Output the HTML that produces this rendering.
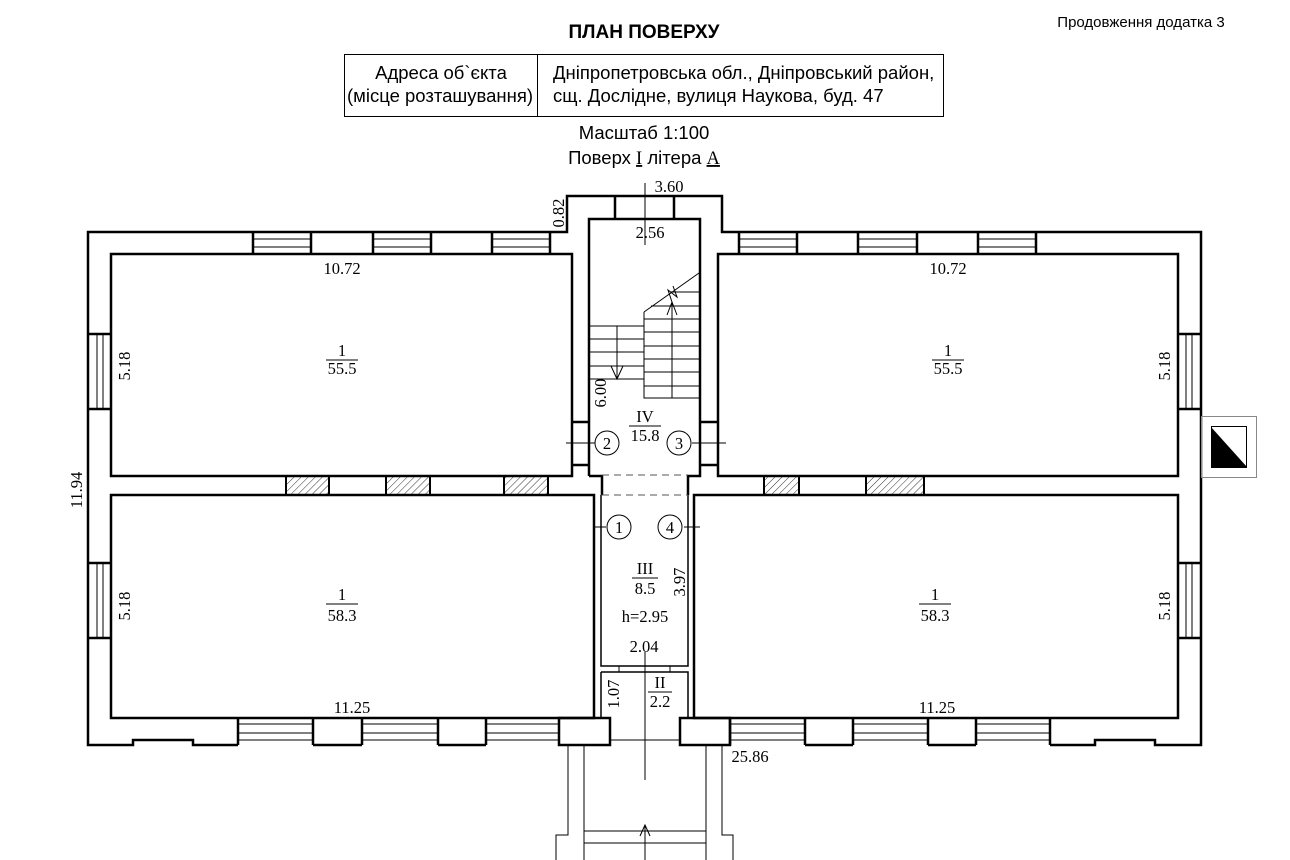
<!DOCTYPE html>
<html><head><meta charset="utf-8"><style>
html,body{margin:0;padding:0;background:#fff;}
svg{display:block}
.s{font-family:"Liberation Sans",sans-serif;}
.r{font-family:"Liberation Serif",serif;font-size:16.5px;}
</style></head><body>
<svg width="1290" height="860" viewBox="0 0 1290 860" xmlns="http://www.w3.org/2000/svg">
<defs>
<pattern id="h" width="5" height="5" patternUnits="userSpaceOnUse" patternTransform="rotate(45)">
<line x1="0" y1="0" x2="0" y2="5" stroke="#000" stroke-width="0.8"/></pattern>
</defs>
<!-- header -->
<text class="s" x="644" y="38" font-size="19" font-weight="bold" text-anchor="middle">ПЛАН ПОВЕРХУ</text>
<text class="s" x="1141" y="27" font-size="15" text-anchor="middle">Продовження додатка 3</text>
<rect x="344.5" y="54.5" width="599" height="62" fill="none" stroke="#000" stroke-width="1"/>
<line x1="537.5" y1="54" x2="537.5" y2="117" stroke="#000"/>
<g class="s" font-size="18.5">
<text x="441" y="79" text-anchor="middle">Адреса об`єкта</text>
<text x="440" y="102" text-anchor="middle">(місце розташування)</text>
<text x="553" y="79">Дніпропетровська обл., Дніпровський район,</text>
<text x="553" y="102">сщ. Дослідне, вулиця Наукова, буд. 47</text>
<text x="644" y="139" text-anchor="middle">Масштаб 1:100</text>
<text x="644" y="164" text-anchor="middle">Поверх <tspan font-family="Liberation Serif" text-decoration="underline">I</tspan> літера  <tspan font-family="Liberation Serif" text-decoration="underline">А</tspan></text>
</g>

<g fill="none" stroke="#000" stroke-width="2.5">
<!-- outer outline -->
<path d="M238 745 H193 V740 H133 V745 H88 V232 H567 V196 H722 V232 H1201 V745 H1155 V740 H1095 V745 H1050"/>
<!-- rooms -->
<rect x="111" y="254" width="461" height="222"/>
<rect x="718" y="254" width="460" height="222"/>
<path d="M111 495 H594 V718 H111 Z"/>
<path d="M694 495 H1178 V718 H694 Z"/>
<!-- stair -->
<path d="M589 476 V219 H700 V476 H688 V495 M589 476 H602 V495"/>
</g>
<g fill="none" stroke="#000" stroke-width="1.5">
<path d="M601 495 V666 H688 V495"/>
<path d="M601 672 H688 V718 M601 672 V718"/>
</g>
<!-- bottom pier boxes -->
<g fill="none" stroke="#000" stroke-width="2.5">
<rect x="559" y="718" width="51" height="27"/>
<rect x="680" y="718" width="50" height="27"/>
<path d="M238 718 V745 M313 718 V745 M362 718 V745 M438 718 V745 M486 718 V745 M730 718 V745 M805 718 V745 M853 718 V745 M928 718 V745 M976 718 V745 M1050 718 V745"/>
<path d="M313 745 H362 M438 745 H486 M805 745 H853 M928 745 H976"/>
</g>
<!-- bottom windows -->
<g stroke="#000" stroke-width="1">
<path d="M238 740 H313 M238 724 H313 M238 733 H313 M362 740 H438 M362 724 H438 M362 733 H438 M486 740 H559 M486 724 H559 M486 733 H559 M610 740 H680 M730 740 H805 M730 724 H805 M730 733 H805 M853 740 H928 M853 724 H928 M853 733 H928 M976 740 H1050 M976 724 H1050 M976 733 H1050"/>
</g>
<!-- top windows -->
<g stroke="#000">
<g stroke-width="2.5"><path d="M253 232 V254 M311 232 V254 M373 232 V254 M431 232 V254 M492 232 V254 M550 232 V254 M739 232 V254 M797 232 V254 M858 232 V254 M917 232 V254 M978 232 V254 M1036 232 V254 M615 196 V219 M674 196 V219"/></g>
<g stroke-width="1"><path d="M253 239 H311 M253 247 H311 M373 239 H431 M373 247 H431 M492 239 H550 M492 247 H550 M739 239 H797 M739 247 H797 M858 239 H917 M858 247 H917 M978 239 H1036 M978 247 H1036"/></g>
<!-- side windows -->
<g stroke-width="2.5"><path d="M88 334 H111 M88 409 H111 M88 563 H111 M88 638 H111 M1178 334 H1201 M1178 409 H1201 M1178 563 H1201 M1178 638 H1201"/></g>
<g stroke-width="1"><path d="M97 334 V409 M103 334 V409 M97 563 V638 M103 563 V638 M1186 334 V409 M1192 334 V409 M1186 563 V638 M1192 563 V638"/></g>
<!-- stair side walls with openings -->
<g stroke-width="2.5"><path d="M572 422 H589 M572 465 H589 M700 422 H718 M700 465 H718"/></g>
</g>
<!-- hatched -->
<g fill="url(#h)" stroke="#000" stroke-width="2">
<rect x="286" y="476" width="43" height="19"/>
<rect x="386" y="476" width="44" height="19"/>
<rect x="504" y="476" width="44" height="19"/>
<rect x="764" y="476" width="35" height="19"/>
<rect x="866" y="476" width="58" height="19"/>
</g>
<!-- dashed opening -->
<g stroke="#555" stroke-width="1" stroke-dasharray="7,5">
<line x1="602" y1="475" x2="688" y2="475"/><line x1="602" y1="495" x2="688" y2="495"/>
</g>
<!-- stairs -->
<g stroke="#000" stroke-width="1" fill="none">
<path d="M589 326 H644 M589 339 H644 M589 352 H644 M589 366 H644 M589 379 H644"/>
<path d="M644 312 L699 273 M644 312 V398 H699"/>
<path d="M670 292 H699 M651 306 H699 M644 319 H699 M644 332 H699 M644 346 H699 M644 359 H699 M644 372 H699 M644 386 H699"/>
<path d="M617 326 V379 M611 366 L617 379 L623 366"/>
<path d="M672 398 V302 M667 315 L672 302 L677 315 M672 302 L668 290 L677 297 L673 286"/>
<!-- dim lines -->
<path d="M645 183 V245"/>
<path d="M645 652 V780"/>
<path d="M645 860 V825 M640 836 L645 825 L650 836"/>
<path d="M566 443 H597 M692 443 H726"/>
<path d="M593 527 H606 M684 527 H700"/>
<path d="M619 666 V672 M670 666 V672"/>
</g>
<g fill="#fff" stroke="#000" stroke-width="1">
<circle cx="607" cy="443" r="12"/><circle cx="679" cy="443" r="12"/>
<circle cx="619" cy="527" r="12"/><circle cx="670" cy="527" r="12"/>
</g>
<!-- porch -->
<g stroke="#000" stroke-width="1" fill="none">
<path d="M568 745 V835 H556 V860 M584 745 V860 M706 745 V860 M722 745 V835 H733 V860"/>
<path d="M584 831 H706 M584 843 H706"/>
</g>
<!-- compass -->
<rect x="1201.5" y="416.5" width="55" height="61" fill="none" stroke="#888" stroke-width="1"/>
<rect x="1211.5" y="426.5" width="35" height="41" fill="#fff" stroke="#000" stroke-width="1"/>
<path d="M1211 427 L1247 467 H1211 Z" fill="#000"/>
<!-- labels -->
<g class="r" text-anchor="middle">
<text x="342" y="274">10.72</text><text x="948" y="274">10.72</text>
<text x="342" y="356">1</text><text x="342" y="374">55.5</text>
<line x1="326" y1="360" x2="358" y2="360" stroke="#000"/>
<text x="948" y="356">1</text><text x="948" y="374">55.5</text>
<line x1="932" y1="360" x2="964" y2="360" stroke="#000"/>
<text x="342" y="600">1</text><text x="342" y="621">58.3</text>
<line x1="326" y1="604" x2="358" y2="604" stroke="#000"/>
<text x="935" y="600">1</text><text x="935" y="621">58.3</text>
<line x1="919" y1="604" x2="951" y2="604" stroke="#000"/>
<text x="352" y="713">11.25</text><text x="937" y="713">11.25</text>
<text x="669" y="192">3.60</text>
<text x="650" y="238">2.56</text>
<text x="645" y="422">IV</text><text x="645" y="441">15.8</text>
<line x1="629" y1="426" x2="661" y2="426" stroke="#000"/>
<text x="607" y="449">2</text><text x="679" y="449">3</text>
<text x="619" y="533">1</text><text x="670" y="533">4</text>
<text x="645" y="574">III</text><text x="645" y="594">8.5</text>
<line x1="632" y1="578" x2="658" y2="578" stroke="#000"/>
<text x="645" y="622">h=2.95</text>
<text x="644" y="652">2.04</text>
<text x="660" y="688">II</text><text x="660" y="707">2.2</text>
<line x1="648" y1="692" x2="672" y2="692" stroke="#000"/>
<text x="750" y="762">25.86</text>
</g>
<g class="r" text-anchor="middle">
<text transform="translate(130,366) rotate(-90)">5.18</text>
<text transform="translate(1170,366) rotate(-90)">5.18</text>
<text transform="translate(130,606) rotate(-90)">5.18</text>
<text transform="translate(1170,606) rotate(-90)">5.18</text>
<text transform="translate(82,490) rotate(-90)">11.94</text>
<text transform="translate(564,213) rotate(-90)">0.82</text>
<text transform="translate(606,393) rotate(-90)">6.00</text>
<text transform="translate(685,582) rotate(-90)">3.97</text>
<text transform="translate(619,694) rotate(-90)">1.07</text>
</g>
</svg>
</body></html>
